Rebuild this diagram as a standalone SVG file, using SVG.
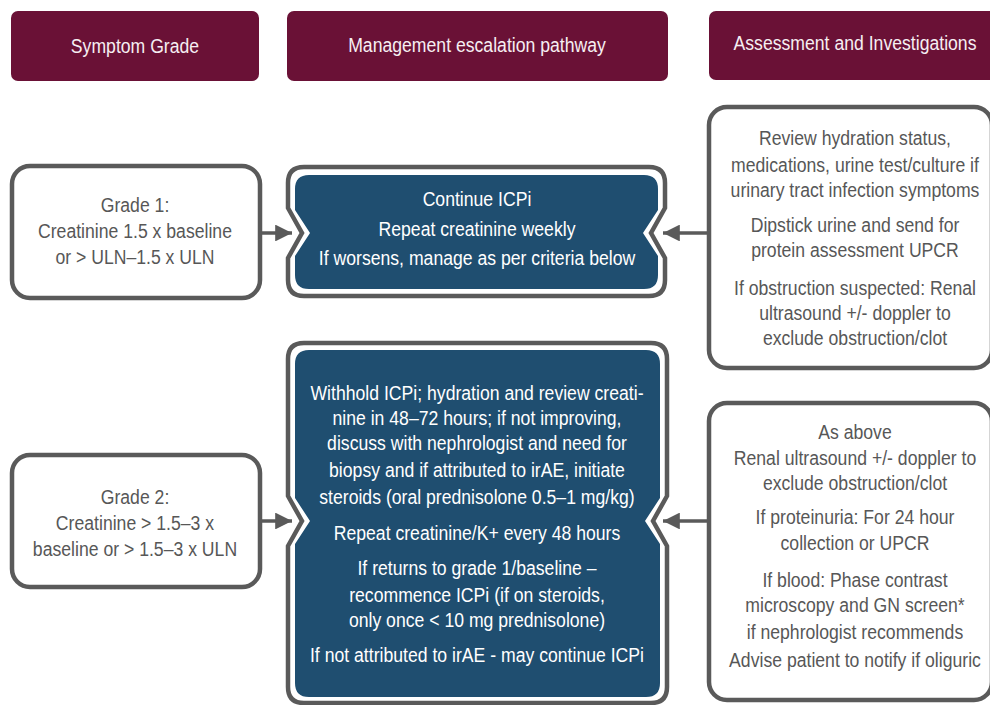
<svg xmlns="http://www.w3.org/2000/svg" width="990" height="705" viewBox="0 0 990 705">
<defs>
<style>
.hdr{fill:#6a1136;}
.ht{fill:#f6eef2;font-family:"Liberation Sans",Arial,sans-serif;font-size:21px;text-anchor:middle;}
.wbox{fill:#ffffff;stroke:#5a5a5a;stroke-width:4.5;}
.gt{fill:#575757;font-family:"Liberation Sans",Arial,sans-serif;font-size:21px;text-anchor:middle;}
.bt{fill:#ffffff;font-family:"Liberation Sans",Arial,sans-serif;font-size:21px;text-anchor:middle;}
.outer{fill:#ffffff;stroke:#5a5a5a;stroke-width:4.5;stroke-linejoin:miter;}
.inner{fill:#1f4e70;}
.conn{stroke:#5a5a5a;stroke-width:3.5;fill:none;}
</style>
<marker id="ah" viewBox="0 0 10 10" refX="10" refY="5" markerWidth="4.8" markerHeight="4.8" markerUnits="strokeWidth" orient="auto">
<path d="M0,0 L10,5 L0,10 Z" fill="#5a5a5a"/>
</marker>
</defs>
<rect width="990" height="705" fill="#ffffff"/>

<g id="hdr-symptom">
<rect class="hdr" x="11" y="11" width="248" height="70" rx="7"/>
<g transform="scale(0.84,1)"><text class="ht" x="160.71" y="53">Symptom Grade</text></g>
</g>
<g id="hdr-management">
<rect class="hdr" x="287" y="11" width="381" height="70" rx="7"/>
<g transform="scale(0.84,1)"><text class="ht" x="567.86" y="52">Management escalation pathway</text></g>
</g>
<g id="hdr-assessment">
<rect class="hdr" x="709" y="11" width="295" height="69" rx="7"/>
<g transform="scale(0.84,1)"><text class="ht" x="1017.86" y="50">Assessment and Investigations</text></g>
</g>

<g id="grade1">
<rect class="wbox" x="12" y="166" width="248" height="132" rx="18"/>
<g transform="scale(0.84,1)">
<text class="gt" x="160.71" y="212">Grade 1:</text>
<text class="gt" x="160.71" y="238">Creatinine 1.5 x baseline</text>
<text class="gt" x="160.71" y="264">or &gt; ULN–1.5 x ULN</text>
</g>
</g>

<g id="grade2">
<rect class="wbox" x="12" y="455" width="248" height="132" rx="18"/>
<g transform="scale(0.84,1)">
<text class="gt" x="160.71" y="504">Grade 2:</text>
<text class="gt" x="160.71" y="530">Creatinine &gt; 1.5–3 x</text>
<text class="gt" x="160.71" y="556">baseline or &gt; 1.5–3 x ULN</text>
</g>
</g>

<g id="mgmt1">
<path class="outer" d="M304,167 H649 Q665,167 665,183 V208 L651,233 L665,258 V280 Q665,296 649,296 H304 Q288,296 288,280 V258 L302,233 L288,208 V183 Q288,167 304,167 Z"/>
<path class="inner" d="M309,175 H644 Q658,175 658,189 V210 L643,233 L658,256 V275 Q658,289 644,289 H309 Q295,289 295,275 V256 L310,233 L295,210 V189 Q295,175 309,175 Z"/>
<g transform="scale(0.84,1)">
<text class="bt" x="567.86" y="206">Continue ICPi</text>
<text class="bt" x="567.86" y="236">Repeat creatinine weekly</text>
<text class="bt" x="567.86" y="265">If worsens, manage as per criteria below</text>
</g>
</g>

<g id="mgmt2">
<path class="outer" d="M304,343 H651 Q667,343 667,359 V496 L653,521 L667,546 V687 Q667,703 651,703 H304 Q288,703 288,687 V546 L302,521 L288,496 V359 Q288,343 304,343 Z"/>
<path class="inner" d="M309,350 H646 Q660,350 660,364 V498 L645,521 L660,544 V683 Q660,697 646,697 H309 Q295,697 295,683 V544 L310,521 L295,498 V364 Q295,350 309,350 Z"/>
<g transform="scale(0.84,1)">
<text class="bt" x="567.86" y="400">Withhold ICPi; hydration and review creati-</text>
<text class="bt" x="567.86" y="425">nine in 48–72 hours; if not improving,</text>
<text class="bt" x="567.86" y="450">discuss with nephrologist and need for</text>
<text class="bt" x="567.86" y="477">biopsy and if attributed to irAE, initiate</text>
<text class="bt" x="567.86" y="504">steroids (oral prednisolone 0.5–1 mg/kg)</text>
<text class="bt" x="567.86" y="540">Repeat creatinine/K+ every 48 hours</text>
<text class="bt" x="567.86" y="575">If returns to grade 1/baseline –</text>
<text class="bt" x="567.86" y="602">recommence ICPi (if on steroids,</text>
<text class="bt" x="567.86" y="627">only once &lt; 10 mg prednisolone)</text>
<text class="bt" x="567.86" y="662">If not attributed to irAE - may continue ICPi</text>
</g>
</g>

<g id="assess1">
<rect class="wbox" x="709" y="107" width="283" height="261" rx="18"/>
<g transform="scale(0.84,1)">
<text class="gt" x="1017.86" y="145">Review hydration status,</text>
<text class="gt" x="1017.86" y="172">medications, urine test/culture if</text>
<text class="gt" x="1017.86" y="197">urinary tract infection symptoms</text>
<text class="gt" x="1017.86" y="232">Dipstick urine and send for</text>
<text class="gt" x="1017.86" y="257">protein assessment UPCR</text>
<text class="gt" x="1017.86" y="295">If obstruction suspected: Renal</text>
<text class="gt" x="1017.86" y="320">ultrasound +/- doppler to</text>
<text class="gt" x="1017.86" y="345">exclude obstruction/clot</text>
</g>
</g>

<g id="assess2">
<rect class="wbox" x="709" y="403" width="283" height="297" rx="18"/>
<g transform="scale(0.84,1)">
<text class="gt" x="1017.86" y="439">As above</text>
<text class="gt" x="1017.86" y="465">Renal ultrasound +/- doppler to</text>
<text class="gt" x="1017.86" y="490">exclude obstruction/clot</text>
<text class="gt" x="1017.86" y="524">If proteinuria: For 24 hour</text>
<text class="gt" x="1017.86" y="550">collection or UPCR</text>
<text class="gt" x="1017.86" y="587">If blood: Phase contrast</text>
<text class="gt" x="1017.86" y="612">microscopy and GN screen*</text>
<text class="gt" x="1017.86" y="639">if nephrologist recommends</text>
<text class="gt" x="1017.86" y="667">Advise patient to notify if oliguric</text>
</g>
</g>

<g id="connectors">
<line class="conn" x1="262" y1="233" x2="292" y2="233" marker-end="url(#ah)"/>
<line class="conn" x1="262" y1="521" x2="292" y2="521" marker-end="url(#ah)"/>
<line class="conn" x1="707" y1="233" x2="663" y2="233" marker-end="url(#ah)"/>
<line class="conn" x1="707" y1="521" x2="663" y2="521" marker-end="url(#ah)"/>
</g>
</svg>
